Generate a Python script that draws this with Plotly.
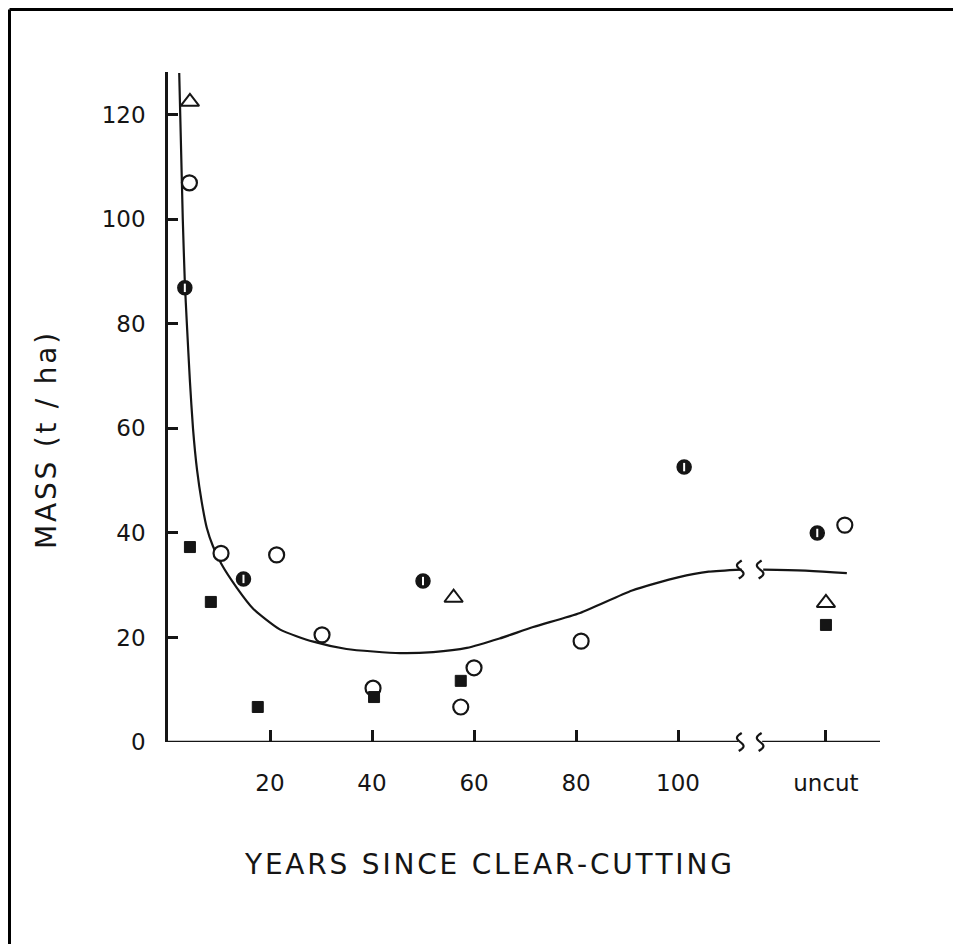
import numpy as np
import plotly.graph_objects as go

# ---------------- data ----------------
# x = years since clear-cutting; "uncut" stands are placed at x≈129
UNCUT_POS = 129

open_circle_x = [4.2, 10.4, 21.3, 30.2, 40.2, 57.4, 60.0, 81.0, 132.7]
open_circle_y = [107, 36.1, 35.8, 20.5, 10.3, 6.7, 14.2, 19.3, 41.5]

half_circle_x = [3.3, 14.8, 50.0, 101.2, 127.3]
half_circle_y = [86.9, 31.2, 30.8, 52.6, 40.0]

triangle_x = [4.3, 56.0, 129.0]
triangle_y = [122.5, 27.6, 26.6]

square_x = [4.3, 8.4, 17.6, 40.4, 57.4, 129.0]
square_y = [37.3, 26.8, 6.7, 8.6, 11.7, 22.4]

# fitted curve (hand-drawn in the original), before and after the axis break
curve1_x = [2.2, 2.9, 3.3, 3.7, 4.3, 4.9, 5.7, 6.6, 7.6, 8.8, 10.5, 13.5, 16.7,
            22.0, 28.5, 35.0, 45.5, 52.0, 58.6, 65.0, 71.6, 80.8, 91.0, 100.0,
            106.0, 112.5]
curve1_y = [128, 100, 88, 80, 69, 60, 52, 46, 41, 37.5, 34, 29.5, 25.5,
            21.5, 19.2, 17.8, 17.0, 17.2, 18.0, 19.8, 22.0, 24.7, 29.0, 31.5,
            32.6, 33.0]
curve2_x = [116.7, 125.0, 133.1]
curve2_y = [33.0, 32.8, 32.3]

x_tick_vals = [20, 40, 60, 80, 100, UNCUT_POS]
x_tick_text = ["20", "40", "60", "80", "100", "uncut"]
y_tick_vals = [0, 20, 40, 60, 80, 100, 120]

X_TITLE = "YEARS SINCE CLEAR-CUTTING"
Y_TITLE = "MASS (t / ha)"

BREAK_X = [112.2, 116.1]   # positions of the axis-break marks
BREAK_LEVELS = [0, 33.0]   # on the x axis and on the curve
X_MAX = 139.6
Y_MAX = 128.2

INK = "#151515"
FONT = "DejaVu Sans"

# the page adds an 8px body margin; margins below are chosen so the plot area
# lands at page x 168..880, y 72..742
ML, MR, MT, MB = 160, 89, 64, 210
PW, PH = 961 - ML - MR, 944 - MT - MB


def spaced(s, gap="\u200a"):
    """Widen letter spacing with hair spaces (the original uses spaced lettering)."""
    return (gap + " " + gap).join(gap.join(list(w)) for w in s.split(" "))


def break_path(bx, level):
    """Small wavy stroke centred on (bx, level), in paper coordinates (not clipped)."""
    t = np.linspace(-1, 1, 25)
    px = bx / X_MAX + (-4.0 * np.sin(np.pi * t) + 1.5 * t) / PW
    py = level / Y_MAX + (9.0 * t) / PH
    return "M " + " L ".join(f"{a:.5f},{b:.5f}" for a, b in zip(px, py))


fig = go.Figure()

# curve
fig.add_trace(go.Scatter(x=curve1_x, y=curve1_y, mode="lines",
                         line=dict(color=INK, width=2.2, shape="spline", smoothing=0.6),
                         hoverinfo="skip", showlegend=False))
fig.add_trace(go.Scatter(x=curve2_x, y=curve2_y, mode="lines",
                         line=dict(color=INK, width=2.2, shape="spline"),
                         hoverinfo="skip", showlegend=False))

# data markers
fig.add_trace(go.Scatter(x=open_circle_x, y=open_circle_y, mode="markers",
                         marker=dict(symbol="circle", size=15, color="white",
                                     line=dict(color=INK, width=2.2)),
                         showlegend=False))
fig.add_trace(go.Scatter(x=half_circle_x, y=half_circle_y, mode="markers",
                         marker=dict(symbol="circle", size=14, color=INK,
                                     line=dict(color=INK, width=1.5)),
                         showlegend=False))
fig.add_trace(go.Scatter(x=half_circle_x, y=half_circle_y, mode="markers",
                         marker=dict(symbol="line-ns", size=6,
                                     line=dict(color="white", width=2)),
                         hoverinfo="skip", showlegend=False))
fig.add_trace(go.Scatter(x=triangle_x, y=triangle_y, mode="markers",
                         marker=dict(symbol="triangle-up", size=16, color="white",
                                     line=dict(color=INK, width=2)),
                         showlegend=False))
fig.add_trace(go.Scatter(x=square_x, y=square_y, mode="markers",
                         marker=dict(symbol="square", size=11, color=INK,
                                     line=dict(color=INK, width=1)),
                         showlegend=False))

# x axis line with a gap at the break
fig.add_shape(type="line", xref="x", yref="y", x0=-0.6, x1=BREAK_X[0] - 0.4, y0=0, y1=0,
              line=dict(color=INK, width=2.5), layer="below")
fig.add_shape(type="line", xref="x", yref="y", x0=BREAK_X[1] + 0.4, x1=X_MAX, y0=0, y1=0,
              line=dict(color=INK, width=2.5), layer="below")

# break marks
for bx in BREAK_X:
    for lv in BREAK_LEVELS:
        fig.add_shape(type="path", xref="paper", yref="paper", path=break_path(bx, lv),
                      line=dict(color=INK, width=2.2))

# page frame (left and top edges)
fx = (1.5 - ML) / PW
fy = 1 + (MT - 1.5) / PH
fig.add_shape(type="line", xref="paper", yref="paper",
              x0=fx, x1=fx, y0=fy, y1=-0.4,
              line=dict(color="black", width=3))
fig.add_shape(type="line", xref="paper", yref="paper",
              x0=fx, x1=1.2, y0=fy, y1=fy,
              line=dict(color="black", width=3))

# axis titles
fig.add_annotation(text=spaced(X_TITLE), xref="paper", yref="paper",
                   x=(488 - 168) / PW, y=(742 - 864) / PH, showarrow=False,
                   xanchor="center", yanchor="middle",
                   font=dict(family=FONT, size=28, color=INK))
fig.add_annotation(text=spaced(Y_TITLE), xref="paper", yref="paper",
                   x=(46 - 168) / PW, y=(742 - 441) / PH, showarrow=False,
                   xanchor="center", yanchor="middle",
                   textangle=-90, font=dict(family=FONT, size=28, color=INK))

fig.update_xaxes(range=[0, X_MAX], showgrid=False, zeroline=False, showline=False,
                 tickmode="array", tickvals=x_tick_vals, ticktext=x_tick_text,
                 ticks="inside", ticklen=12, tickwidth=2.5, tickcolor=INK,
                 ticklabelstandoff=25,
                 tickfont=dict(family=FONT, size=23, color=INK))
fig.update_yaxes(range=[0, Y_MAX], showgrid=False, zeroline=False, showline=True,
                 linecolor=INK, linewidth=2.5,
                 tickmode="array", tickvals=y_tick_vals,
                 ticks="inside", ticklen=10, tickwidth=2.5, tickcolor=INK,
                 ticklabelstandoff=15,
                 tickfont=dict(family=FONT, size=23, color=INK))

fig.update_layout(width=961, height=944, autosize=False,
                  margin=dict(l=ML, r=MR, t=MT, b=MB),
                  paper_bgcolor="white", plot_bgcolor="white",
                  showlegend=False)

fig.write_html("out.html")
